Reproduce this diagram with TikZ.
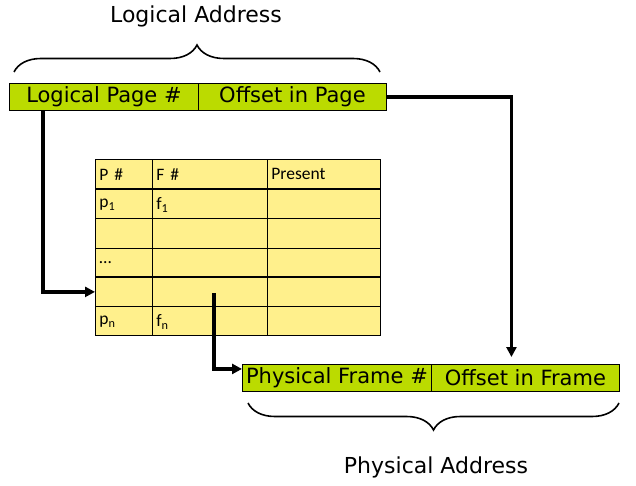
\documentclass[tikz,border=0pt]{standalone}
\usepackage{fontspec}
\setmainfont{DejaVu Sans}
\newfontfamily\tabfont{Carlito}
\usetikzlibrary{arrows.meta,decorations.pathreplacing}
\definecolor{boxgreen}{HTML}{BBDB00}
\definecolor{tabyellow}{HTML}{FFF08C}
\tikzset{
  addrbox/.style={draw=black, line width=0.9pt, fill=boxgreen, inner sep=0pt,
    minimum height=27pt, font=\fontsize{21}{22}\selectfont},
  cell/.style={draw=black, line width=0.8pt, fill=tabyellow, inner sep=0pt,
    text width=#1-8pt, align=left, font=\tabfont\fontsize{17.5}{18}\selectfont},
  cellt/.style={cell=#1, fill=none, draw=none},
  conn/.style={line width=3.2pt, -{Triangle[length=10pt,width=10pt]}},
  bracestyle/.style={line width=1.6pt, decorate},
  title/.style={font=\fontsize{22}{24}\selectfont, inner sep=0pt}
}
\begin{document}
\begin{tikzpicture}[x=1pt,y=-1pt]
\useasboundingbox (0,0) rectangle (636,486);
% top logical address
\node[title] (la) at (196,16) {Logical Address};
\draw[bracestyle, decoration={brace, amplitude=27pt}] (14,72) -- (380,72);
\node[addrbox, minimum width=189pt, anchor=north west] (lp) at (9,83) {Logical Page \#};
\node[addrbox, minimum width=188pt, anchor=north west] (op) at (198,83) {Offset in Page};
% table
\foreach \r/\y/\h in {1/159/30,2/189/29,3/218/30,4/248/29,5/277/29,6/306/29} {
  \node[cell=57pt, minimum width=57pt, minimum height=\h pt, anchor=north west] (t-\r-1) at (95,\y) {};
  \node[cell=115pt, minimum width=115pt, minimum height=\h pt, anchor=north west] (t-\r-2) at (152,\y) {};
  \node[cell=113pt, minimum width=113pt, minimum height=\h pt, anchor=north west] (t-\r-3) at (267,\y) {};
}
\node[cellt=57pt] at (t-1-1) {P \#};
\node[cellt=115pt] at (t-1-2) {F \#};
\node[cellt=113pt] at (t-1-3) {Present};
\node[cellt=57pt] at ([yshift=-1pt]t-2-1) {p\textsubscript{1}};
\node[cellt=115pt] at ([yshift=-1pt]t-2-2) {f\textsubscript{1}};
\node[cellt=57pt] at (t-4-1) {\ldots};
\node[cellt=57pt] at ([yshift=-1pt]t-6-1) {p\textsubscript{n}};
\node[cellt=115pt] at ([yshift=-1pt]t-6-2) {f\textsubscript{n}};
\draw[line width=1.6pt] (t-2-1.north west) -- (t-2-3.north east);
\draw[line width=1.6pt] (t-5-1.north west) -- (t-5-3.north east);
% physical address
\node[addrbox, minimum width=189pt, anchor=north west] (pf) at (242,364) {Physical Frame \#};
\node[addrbox, minimum width=188pt, anchor=north west] (of) at (431,364) {Offset in Frame};
\draw[bracestyle, decoration={brace, amplitude=27pt}] (619,403) -- (248,403);
\node[title] (pa) at (436,467) {Physical Address};
% connectors
\draw[conn] ([xshift=34pt]lp.south west) |- (t-5-1.west);
\draw[conn] (op.east) -| ([xshift=-14pt,yshift=7pt]of.north);
\draw[conn] ([xshift=4pt,yshift=-1.5pt]t-5-2.center) |- ([yshift=9pt]pf.west);
\end{tikzpicture}
\end{document}
